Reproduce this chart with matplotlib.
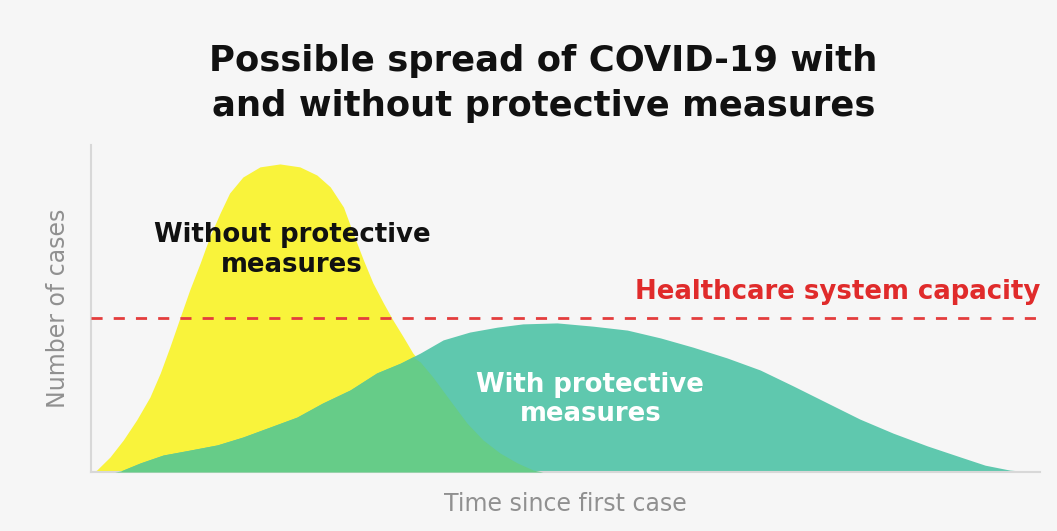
import numpy as np
import matplotlib.pyplot as plt

t_without = [0.2, 0.6, 2.0, 3.4, 4.8, 6.2, 7.3, 8.3, 9.4, 10.4, 11.5, 12.5, 13.6, 14.6,
             16.0, 17.8, 19.9, 22.0, 23.8, 25.2, 26.6, 27.6, 28.7, 29.7, 30.8, 31.8,
             32.9, 33.9, 36.0, 37.8, 39.6, 41.3, 43.1, 44.9, 46.6, 47.6]
cases_without = [0, 0.6, 4.6, 9.8, 15.9, 22.9, 30.3, 38.2, 47.4, 55.7, 63.9, 71.9, 79.2, 85.3,
                 90.2, 93.3, 94.2, 93.3, 90.8, 87.2, 81.0, 73.1, 64.8, 57.8, 51.7, 46.5,
                 41.3, 36.4, 29.1, 22.0, 15.0, 9.8, 5.8, 2.8, 0.6, 0]

# Courbe avec mesures
t_with = [2.5, 3.1, 5.2, 7.6, 10.4, 13.3, 16.0, 18.9, 21.7, 24.4, 27.3, 30.1, 32.6,
          34.7, 37.1, 39.9, 42.8, 45.5, 49.1, 52.9, 56.5, 60.0, 63.4, 67.0, 70.5,
          74.0, 77.6, 81.0, 84.5, 88.1, 91.6, 94.2, 96.8, 99.3]
cases_with = [0, 0.3, 2.8, 5.2, 6.7, 8.3, 10.7, 13.8, 16.8, 21.1, 25.1, 30.3, 33.3,
              36.4, 40.4, 42.8, 44.3, 45.3, 45.6, 44.6, 43.4, 41.0, 38.2, 34.9, 31.2,
              26.3, 21.1, 16.2, 11.9, 8.0, 4.6, 2.1, 0.6, 0]

capacity = 47.1

bg = '#f6f6f6'
yellow = '#f9f33b'
teal = '#5fc8ae'
overlap = '#66cc88'

fig = plt.figure(figsize=(10.57, 5.31), dpi=100, facecolor=bg)
ax = fig.add_axes([0.0861, 0.111, 0.898, 0.616], facecolor=bg)

ax.fill_between(t_without, cases_without, 0, color=yellow, lw=0, zorder=1)
ax.fill_between(t_with, cases_with, 0, color=teal, lw=0, zorder=2)

# zone de recouvrement
grid = np.union1d(t_without, t_with)
y1 = np.interp(grid, t_without, cases_without, left=0, right=0)
y2 = np.interp(grid, t_with, cases_with, left=0, right=0)
ax.fill_between(grid, np.minimum(y1, y2), 0, color=overlap, lw=0, zorder=3)

ax.axhline(capacity, color='#e43d3d', ls=(0, (4, 4)), lw=2, zorder=4)

ax.set_xlim(0, 100)
ax.set_ylim(0, 100)
ax.set_xticks([])
ax.set_yticks([])
for s in ['top', 'right']:
    ax.spines[s].set_visible(False)
for s in ['left', 'bottom']:
    ax.spines[s].set_color('#d8d8d8')
    ax.spines[s].set_linewidth(1.5)

ax.set_xlabel('Time since first case', color='#909090', fontsize=17, labelpad=14)
ax.set_ylabel('Number of cases', color='#909090', fontsize=17, labelpad=15)

ax.text(100, 55, 'Healthcare system capacity', color='#e02b2b', fontsize=18.7,
        fontweight='bold', ha='right', va='center')
ax.text(21.2, 67.9, 'Without protective\nmeasures', color='#111111', fontsize=18.7,
        fontweight='bold', ha='center', va='center', linespacing=1.2)
ax.text(52.6, 22.3, 'With protective\nmeasures', color='white', fontsize=18.7,
        fontweight='bold', ha='center', va='center', linespacing=1.15)

fig.text(0.514, 0.843, 'Possible spread of COVID-19 with\nand without protective measures',
         ha='center', va='center', fontsize=25.5, fontweight='bold', color='#111111',
         linespacing=1.4)

fig.savefig('out.png', dpi=100, facecolor=bg)
